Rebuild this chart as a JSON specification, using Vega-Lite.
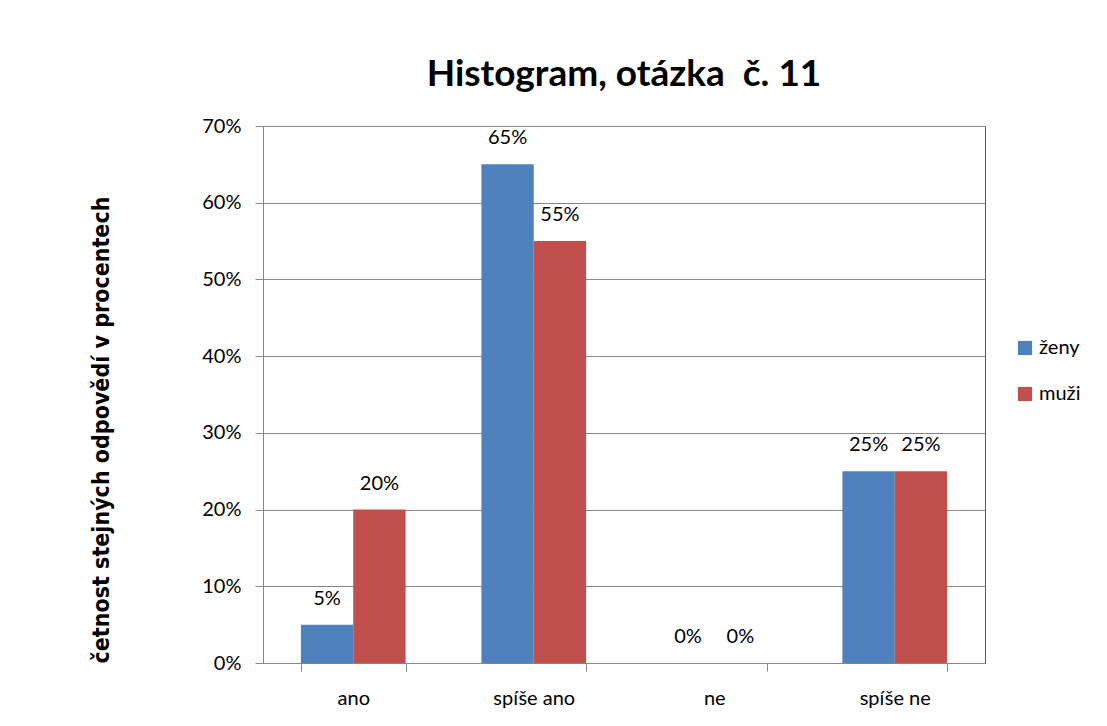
{
  "$schema": "https://vega.github.io/schema/vega-lite/v6.json",
  "width": 722,
  "height": 537,
  "autosize": {"type": "none"},
  "padding": {"left": 263, "top": 126, "right": 122, "bottom": 63},
  "background": "white",
  "title": {
    "text": "Histogram, otázka\u00a0\u00a0č. 11",
    "font": "Lato",
    "fontSize": 37,
    "fontWeight": "bold",
    "color": "#000000",
    "anchor": "middle",
    "offset": 22
  },
  "data": {
    "values": [
      {"odpoved": "ano", "skupina": "ženy", "hodnota": 0.05},
      {"odpoved": "ano", "skupina": "muži", "hodnota": 0.20},
      {"odpoved": "spíše ano", "skupina": "ženy", "hodnota": 0.65},
      {"odpoved": "spíše ano", "skupina": "muži", "hodnota": 0.55},
      {"odpoved": "ne", "skupina": "ženy", "hodnota": 0.0},
      {"odpoved": "ne", "skupina": "muži", "hodnota": 0.0},
      {"odpoved": "spíše ne", "skupina": "ženy", "hodnota": 0.25},
      {"odpoved": "spíše ne", "skupina": "muži", "hodnota": 0.25}
    ]
  },
  "encoding": {
    "x": {
      "field": "odpoved",
      "type": "nominal",
      "sort": ["ano", "spíše ano", "ne", "spíše ne"],
      "scale": {"paddingInner": 0.42, "paddingOuter": 0.21},
      "axis": {
        "title": null,
        "labelAngle": 0,
        "labelFont": "Lato",
        "labelFontSize": 20,
        "labelColor": "#000000",
        "labelPadding": 17,
        "tickBand": "extent",
        "tickSize": 8,
        "tickColor": "#868686",
        "domainColor": "#868686",
        "grid": false
      }
    },
    "xOffset": {
      "field": "skupina",
      "type": "nominal",
      "sort": ["ženy", "muži"],
      "scale": {"paddingInner": 0, "paddingOuter": 0}
    },
    "y": {
      "field": "hodnota",
      "type": "quantitative",
      "scale": {"domain": [0, 0.7], "nice": false},
      "axis": {
        "title": "četnost stejných odpovědí v procentech",
        "titleFont": "DejaVu Sans Condensed",
        "titleFontSize": 23,
        "titleFontWeight": "bold",
        "titleColor": "#000000",
        "titleAnchor": "start",
        "titlePadding": 88,
        "format": ".0%",
        "values": [0, 0.1, 0.2, 0.3, 0.4, 0.5, 0.6, 0.7],
        "labelFont": "Lato",
        "labelFontSize": 20,
        "labelColor": "#000000",
        "labelPadding": 14,
        "tickSize": 8,
        "tickColor": "#868686",
        "domainColor": "#868686",
        "gridColor": "#868686",
        "gridWidth": 1
      }
    }
  },
  "layer": [
    {
      "mark": {"type": "bar"},
      "encoding": {
        "color": {
          "field": "skupina",
          "type": "nominal",
          "sort": ["ženy", "muži"],
          "scale": {"domain": ["ženy", "muži"], "range": ["#4F81BD", "#C0504D"]},
          "legend": {
            "title": null,
            "orient": "none",
            "legendX": 752,
            "legendY": 212,
            "symbolType": "square",
            "symbolSize": 200,
            "symbolStrokeWidth": 0,
            "labelFont": "Lato",
            "labelFontSize": 20,
            "labelColor": "#000000",
            "rowPadding": 26,
            "labelOffset": 4
          }
        }
      }
    },
    {
      "mark": {
        "type": "text",
        "baseline": "bottom",
        "dy": -16,
        "font": "Lato",
        "fontSize": 20,
        "color": "#000000"
      },
      "encoding": {
        "text": {"field": "hodnota", "type": "quantitative", "format": ".0%"}
      }
    }
  ],
  "config": {
    "view": {"stroke": "#595959", "strokeWidth": 1}
  }
}
